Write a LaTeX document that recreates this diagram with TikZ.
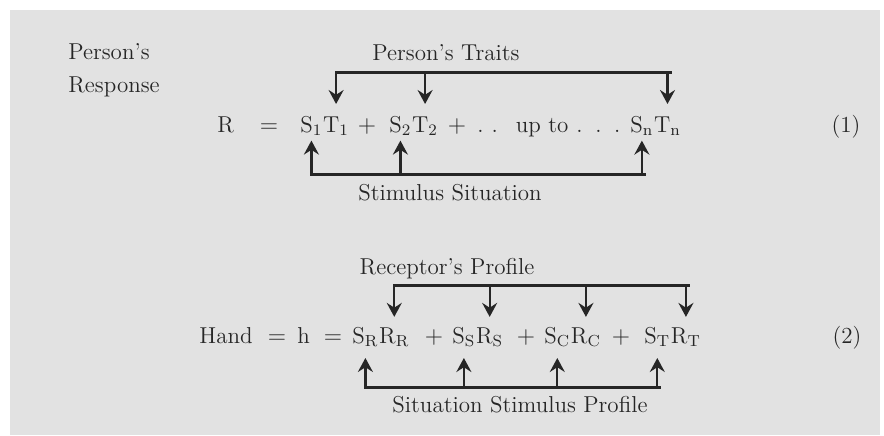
\documentclass[tikz,border=0pt]{standalone}
\usetikzlibrary{arrows.meta,positioning}
\definecolor{paper}{HTML}{E2E2E2}
\definecolor{ink}{HTML}{262626}
\tikzset{
  txt/.style={inner sep=0pt, text=ink, font=\fontsize{11.5}{13}\selectfont},
  bar/.style={draw=ink, line width=1.5pt, shorten <=-0.5pt, shorten >=-2pt},
  darr/.style={draw=ink, line width=1.1pt, -{Stealth[length=7pt,width=7.5pt,inset=2.4pt]}}
}
\begin{document}
\begin{tikzpicture}[x=0.5pt,y=0.5pt]
      \useasboundingbox (0,0) rectangle (884,435);
      \fill[paper] (10,0) rectangle (880,425);
      \node[txt, anchor=base west] (pers) at (68,375) {Person’s};
      \node[txt, anchor=base west] (resp) at (68,343) {Response};
      \node[txt, anchor=base] (traits) at (446,374) {Person’s Traits};
      \node[txt, anchor=base] (stim) at (450,235) {Stimulus Situation};
      \coordinate (trbar) at (0,363);
      \coordinate (stbar) at (0,261);
      \node[txt, anchor=base west] (r) at (217,303) {R};
      \node[txt, anchor=base] (eqa) at (269,303) {$=$};
      \node[txt, anchor=base west] (s1) at (300,303) {S$_1$};
      \node[txt, anchor=base west] (t1) at (s1.base east) {T$_1$};
      \node[txt, anchor=base] (pa) at (367,303) {$+$};
      \node[txt, anchor=base west] (s2) at (389,303) {S$_2$};
      \node[txt, anchor=base west] (t2) at (s2.base east) {T$_2$};
      \node[txt, anchor=base] (pb) at (457,303) {$+$};
      \node[txt, anchor=base west] (upto) at (477,303) {.\hspace{4pt}.\hspace{9pt}up to\hspace{4pt}.\hspace{6.3pt}.\hspace{6.3pt}.};
      \node[txt, anchor=base west] (sn) at (630,303) {S$_{\mathrm{n}}$};
      \node[txt, anchor=base west] (tn) at (sn.base east) {T$_{\mathrm{n}}$};
      \node[txt, anchor=base] (eqnone) at (846,303) {(1)};
      \draw[bar] (t1.north |- trbar) -- (tn.north |- trbar);
      \draw[darr, shorten >=6pt] (t1.north |- trbar) -- (t1.north);
      \draw[darr, shorten >=6pt] (t2.north |- trbar) -- (t2.north);
      \draw[darr, shorten >=6pt] (tn.north |- trbar) -- (tn.north);
      \draw[bar] (s1.south |- stbar) -- (sn.south |- stbar);
      \draw[darr, shorten >=2.3pt] (s1.south |- stbar) -- (s1.south);
      \draw[darr, shorten >=2.3pt] (s2.south |- stbar) -- (s2.south);
      \draw[darr, shorten >=2.3pt] (sn.south |- stbar) -- (sn.south);
      \node[txt, anchor=base] (recep) at (447,161) {Receptor’s Profile};
      \node[txt, anchor=base] (sitstim) at (520,23) {Situation Stimulus Profile};
      \coordinate (rpbar) at (0,150);
      \coordinate (ssbar) at (0,48);
      \node[txt, anchor=base west] (hand) at (199,92) {Hand};
      \node[txt, anchor=base] (eqb) at (277,92) {$=$};
      \node[txt, anchor=base west] (h) at (297,92) {h};
      \node[txt, anchor=base] (eqc) at (333,92) {$=$};
      \node[txt, anchor=base west] (sr) at (352,92) {S$_{\mathrm{R}}$};
      \node[txt, anchor=base west] (rr) at (sr.base east) {R$_{\mathrm{R}}$};
      \node[txt, anchor=base] (pc) at (434,92) {$+$};
      \node[txt, anchor=base west] (ss) at (452,92) {S$_{\mathrm{S}}$};
      \node[txt, anchor=base west] (rs) at (ss.base east) {R$_{\mathrm{S}}$};
      \node[txt, anchor=base] (pd) at (526,92) {$+$};
      \node[txt, anchor=base west] (sc) at (544,92) {S$_{\mathrm{C}}$};
      \node[txt, anchor=base west] (rc) at (sc.base east) {R$_{\mathrm{C}}$};
      \node[txt, anchor=base] (pe) at (621,92) {$+$};
      \node[txt, anchor=base west] (st) at (644,92) {S$_{\mathrm{T}}$};
      \node[txt, anchor=base west] (rt) at (st.base east) {R$_{\mathrm{T}}$};
      \node[txt, anchor=base] (eqntwo) at (847,92) {(2)};
      \draw[bar] (rr.north |- rpbar) -- (rt.north |- rpbar);
      \draw[darr, shorten >=5pt] (rr.north |- rpbar) -- (rr.north);
      \draw[darr, shorten >=5pt] (rs.north |- rpbar) -- (rs.north);
      \draw[darr, shorten >=5pt] (rc.north |- rpbar) -- (rc.north);
      \draw[darr, shorten >=5pt] (rt.north |- rpbar) -- (rt.north);
      \draw[bar] (sr.south |- ssbar) -- (st.south |- ssbar);
      \draw[darr, shorten >=5.5pt] (sr.south |- ssbar) -- (sr.south);
      \draw[darr, shorten >=5.5pt] (ss.south |- ssbar) -- (ss.south);
      \draw[darr, shorten >=5.5pt] (sc.south |- ssbar) -- (sc.south);
      \draw[darr, shorten >=5.5pt] (st.south |- ssbar) -- (st.south);
\end{tikzpicture}
\end{document}
